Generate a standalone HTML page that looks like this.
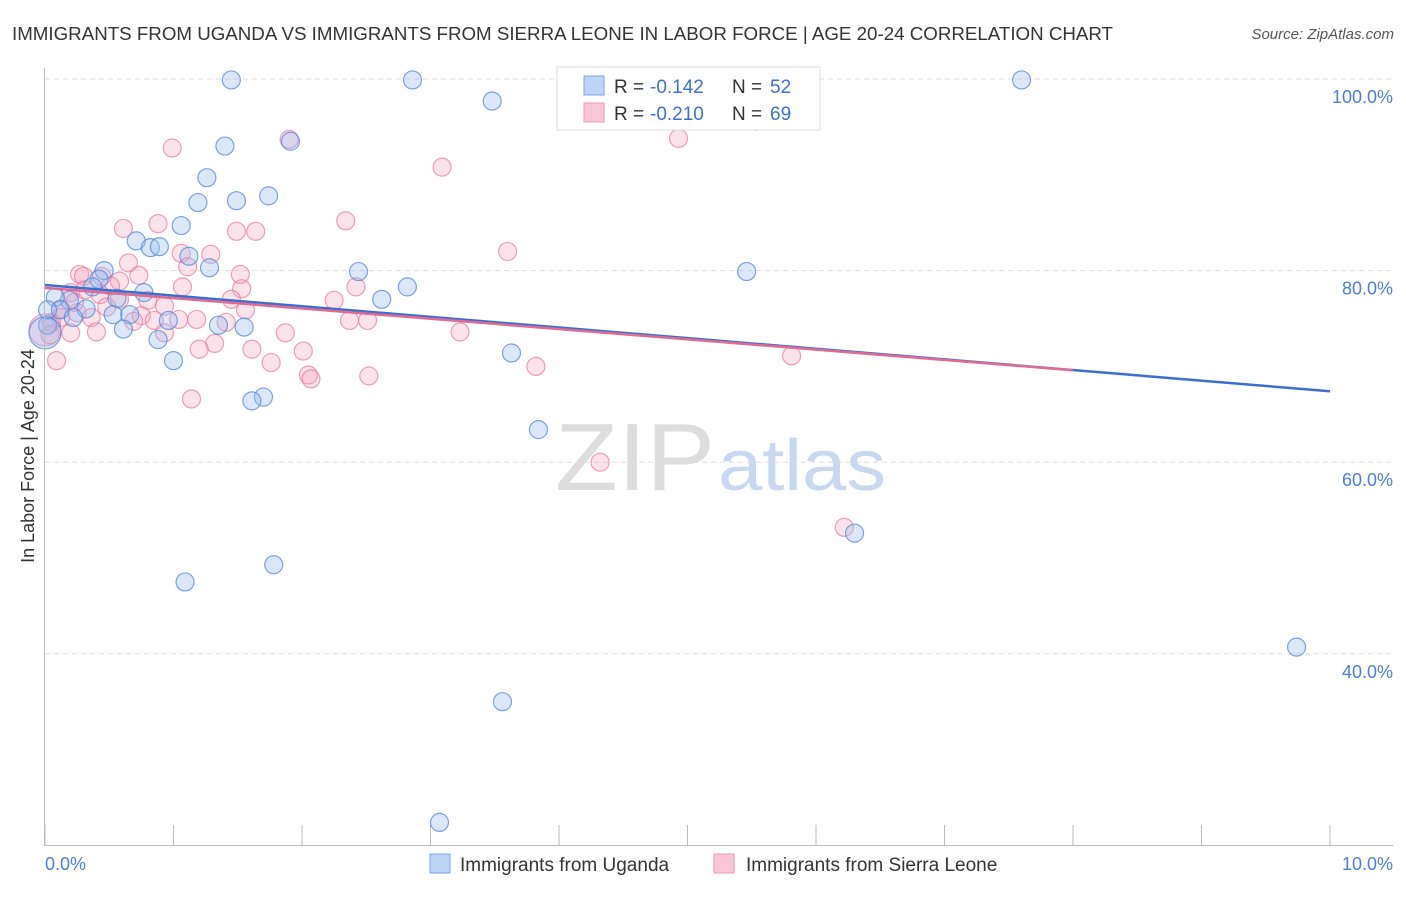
<!DOCTYPE html>
<html><head><meta charset="utf-8"><style>
body{margin:0;background:#fff;font-family:"Liberation Sans",sans-serif}
svg text{font-family:"Liberation Sans",sans-serif}
</style></head><body>
<svg id="c" width="1406" height="892" xmlns="http://www.w3.org/2000/svg">
<text x="12" y="40" font-size="18" fill="#333" textLength="1101" lengthAdjust="spacingAndGlyphs">IMMIGRANTS FROM UGANDA VS IMMIGRANTS FROM SIERRA LEONE IN LABOR FORCE | AGE 20-24 CORRELATION CHART</text>
<text x="1394" y="39" font-size="15" fill="#555" text-anchor="end" font-style="italic">Source: ZipAtlas.com</text>
<text x="555" y="490" font-size="96" textLength="160" lengthAdjust="spacingAndGlyphs" fill="#ddd" font-family="Liberation Serif">ZIP</text>
<text x="718" y="490" font-size="72" textLength="168" lengthAdjust="spacingAndGlyphs" fill="#c7d8f0">atlas</text>
<g id="grid"></g><g id="pts"></g><g id="lines"></g>
<line x1="44.5" y1="68" x2="44.5" y2="845" stroke="#bbb"/>
<line x1="44" y1="845.5" x2="1393" y2="845.5" stroke="#bbb"/>
<text transform="translate(34,456) rotate(-90)" font-size="18" fill="#333" text-anchor="middle">In Labor Force | Age 20-24</text>
<text x="45" y="870" font-size="18" fill="#4a7fd4">0.0%</text>
<text x="1393" y="870" font-size="18" fill="#4a7fd4" text-anchor="end">10.0%</text>
<g>
<rect x="557" y="67" width="263" height="63" fill="#fff" stroke="#ddd"/>
<rect x="584" y="76" width="20" height="19" fill="#bcd4f5" stroke="#7aa6e6"/>
<rect x="584" y="103" width="20" height="19" fill="#f9c6d6" stroke="#ee9ab4"/>
<text x="614" y="93" font-size="19" fill="#333">R =</text>
<text x="650" y="93" font-size="19" fill="#3b6fd0">-0.142</text>
<text x="732" y="93" font-size="19" fill="#333">N =</text>
<text x="770" y="93" font-size="19" fill="#3b6fd0">52</text>
<text x="614" y="120" font-size="19" fill="#333">R =</text>
<text x="650" y="120" font-size="19" fill="#3b6fd0">-0.210</text>
<text x="732" y="120" font-size="19" fill="#333">N =</text>
<text x="770" y="120" font-size="19" fill="#3b6fd0">69</text>
</g>
<g>
<rect x="430" y="854" width="20" height="19" fill="#bcd4f5" stroke="#7aa6e6"/>
<text x="460" y="871" font-size="19" fill="#333">Immigrants from Uganda</text>
<rect x="714" y="854" width="20" height="19" fill="#f9c6d6" stroke="#ee9ab4"/>
<text x="746" y="871" font-size="19" fill="#333">Immigrants from Sierra Leone</text>
</g>
</svg>
<script>
const yTicks=[100,80,60,40];
const yTickLabels=["100.0%","80.0%","60.0%","40.0%"];
const xTicks=[0,1,2,3,4,5,6,7,8,9,10];
const ugX=[1.45,2.86,7.60,3.48,5.53,1.40,1.91,1.26,1.49,1.19,1.74,1.06,0.71,0.82,0.89,1.12,1.28,0.46,2.44,5.46,0.42,0.37,0.77,0.56,0.19,0.08,2.62,2.82,0.32,0.12,0.22,0.53,0.66,0.96,0.61,1.35,1.55,0.88,3.63,1.00,1.70,1.61,3.84,6.30,1.09,1.78,9.74,3.56,3.07,0.02,0.00,0.02];
const ugY=[99.9,99.9,99.9,97.7,95.6,93.0,93.5,89.7,87.3,87.1,87.8,84.7,83.1,82.4,82.5,81.5,80.3,80.0,79.9,79.9,79.1,78.3,77.7,77.1,76.9,77.2,77.0,78.3,76.0,75.9,75.1,75.4,75.4,74.8,73.9,74.3,74.1,72.8,71.4,70.6,66.8,66.4,63.4,52.6,47.5,49.3,40.7,35.0,22.4,74.3,73.5,75.9];
const ugBig=[0,0,0,0,0,0,0,0,0,0,0,0,0,0,0,0,0,0,0,0,0,0,0,0,0,0,0,0,0,0,0,0,0,0,0,0,0,0,0,0,0,0,0,0,0,0,0,0,0,0,1,0];
const slX=[0.99,1.90,3.09,4.93,2.34,0.61,0.88,1.49,1.64,3.60,1.06,1.29,0.65,1.11,0.27,0.30,0.73,1.52,0.44,0.58,0.51,1.07,1.53,2.25,2.42,0.80,0.20,0.43,0.12,0.25,0.36,0.48,0.75,0.85,0.69,1.04,1.18,1.45,1.56,2.37,2.51,3.23,0.40,0.20,0.93,1.87,1.41,1.32,1.20,1.61,2.01,1.76,2.05,2.07,2.52,3.82,5.81,0.09,1.14,4.32,6.22,0.05,0.12,0.00,0.04,0.23,0.58,0.31,0.93];
const slY=[92.8,93.7,90.8,93.8,85.2,84.4,84.9,84.1,84.1,82.0,81.8,81.7,80.8,80.4,79.6,79.4,79.5,79.6,79.4,78.9,78.4,78.3,78.1,76.9,78.3,76.9,77.7,77.5,76.0,75.6,75.1,76.2,75.3,74.8,74.7,74.9,74.9,77.0,75.9,74.8,74.8,73.6,73.6,73.5,73.5,73.5,74.6,72.4,71.8,71.8,71.6,70.4,69.1,68.7,69.0,70.0,71.1,70.6,66.6,60.0,53.2,74.6,75.1,73.8,73.3,76.7,77.0,78.0,76.3];
const slBig=slX.map((v,i)=>i===63?1:0);
const ugLineX=[0,10], ugLineY=[78.5,67.4];
const slLineX=[0,8], slLineY=[78.2,69.6];
const NS="http://www.w3.org/2000/svg";
const sx=v=>45+v*128.5, sy=v=>79+(100-v)*9.58;
function mk(t,a,p){const e=document.createElementNS(NS,t);for(const k in a)e.setAttribute(k,a[k]);p.appendChild(e);return e;}
const grid=document.getElementById('grid');
yTicks.forEach((t,i)=>{
 const l=mk('line',{x1:45,x2:1393,y1:sy(t),y2:sy(t),stroke:'#ddd','stroke-dasharray':'5,4'},grid);
 
 
 const tx=mk('text',{x:1393,y:sy(t)+24,'font-size':18,fill:'#4a7fd4','text-anchor':'end'},grid);
 tx.textContent=yTickLabels[i];
 
 
});
xTicks.forEach(t=>{
 const l=mk('line',{x1:sx(t),x2:sx(t),y1:825,y2:845,stroke:'#bbb'},grid);
 
 
});
const pts=document.getElementById('pts');
function series(X,Y,B,fill,stroke,name){
 X.forEach((x,i)=>{
  const c=mk('circle',{cx:sx(x),cy:sy(Y[i]),r:B[i]?16:9,fill:fill,stroke:stroke,'stroke-width':1.2},pts);
  
  
 });
}
series(slX,slY,slBig,'rgba(244,160,188,0.3)','rgba(230,120,155,0.7)','sierra-leone-point');
series(ugX,ugY,ugBig,'rgba(150,190,240,0.35)','rgba(80,135,215,0.75)','uganda-point');
const lines=document.getElementById('lines');
let l1=mk('line',{x1:sx(ugLineX[0]),y1:sy(ugLineY[0]),x2:sx(ugLineX[1]),y2:sy(ugLineY[1]),stroke:'#3a6fd0','stroke-width':2.5},lines);


let l2=mk('line',{x1:sx(slLineX[0]),y1:sy(slLineY[0]),x2:sx(slLineX[1]),y2:sy(slLineY[1]),stroke:'#e06a92','stroke-width':2.5},lines);


</script>
</body></html>
